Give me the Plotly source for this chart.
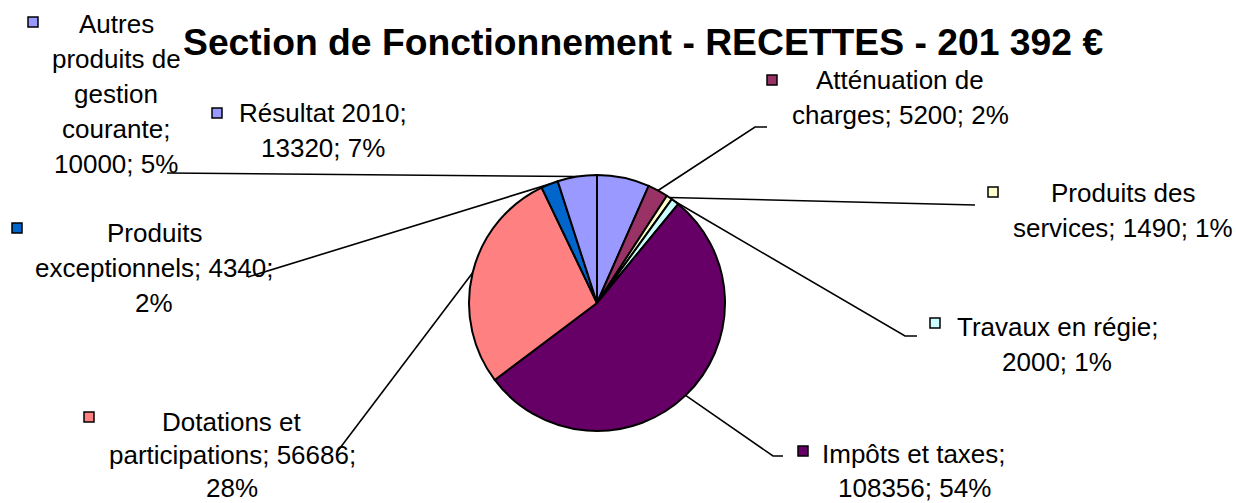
import math
import plotly.graph_objects as go

# ---------------- data ----------------
labels = ["Résultat 2010", "Atténuation de charges", "Produits des services",
          "Travaux en régie", "Impôts et taxes", "Dotations et participations",
          "Produits exceptionnels", "Autres produits de gestion courante"]
values = [13320, 5200, 1490, 2000, 108356, 56686, 4340, 10000]
pct_text = ["7%", "2%", "1%", "1%", "54%", "28%", "2%", "5%"]
colors = ["#9999FF", "#993366", "#FFFFCC", "#CCFFFF", "#660066",
          "#FF8080", "#0066CC", "#9999FF"]
title_text = "Section de Fonctionnement - RECETTES - 201 392 €"

# label text, wrapped as in the original
label_lines = [
    ["Résultat 2010;", "13320; 7%"],
    ["Atténuation de", "charges; 5200; 2%"],
    ["Produits des", "services; 1490; 1%"],
    ["Travaux en régie;", "2000; 1%"],
    ["Impôts et taxes;", "108356; 54%"],
    ["Dotations et", "participations; 56686;", "28%"],
    ["Produits", "exceptionnels; 4340;", "2%"],
    ["Autres", "produits de", "gestion", "courante;", "10000; 5%"],
]

# ---------------- layout (pixels) ----------------
W, H = 1236, 503
CX, CY, R = 597, 303, 128
label_x = [323, 900, 1123, 1057, 914, 232, 154, 116]
label_y0 = [113, 80, 193, 327, 454, 422, 233, 24]
line_gap = [35, 35, 35, 35, 34, 33, 35, 35]
key_pos = [(217, 113), (772, 80), (993, 192), (935, 323), (803, 451),
           (89, 417), (17, 228), (33, 22)]
leader_out = [None, [(767, 127), (755, 127)], [(975, 205)],
              [(917, 336), (905, 336)], [(783, 456), (773, 456)],
              [(337, 452)], [(248, 277)], [(167, 173)]]

FONT = "Liberation Sans, Arial, sans-serif"

fig = go.Figure()

fig.add_trace(go.Pie(
    labels=labels, values=values, sort=False, direction="clockwise", rotation=0,
    marker=dict(colors=colors, line=dict(color="black", width=2)),
    textinfo="none", hoverinfo="label+value+percent", showlegend=False,
    domain=dict(x=[(CX - R) / W, (CX + R) / W],
                y=[(H - CY - R) / H, (H - CY + R) / H]),
))

# leader lines: from the label to the middle of the slice edge
total = sum(values)
cum = 0
for i, v in enumerate(values):
    mid = (cum + v / 2) / total
    cum += v
    if leader_out[i] is None:
        continue
    ang = 2 * math.pi * mid
    px = CX + R * math.sin(ang)
    py = CY - R * math.cos(ang)
    pts = leader_out[i] + [(px, py)]
    fig.add_trace(go.Scatter(
        x=[p[0] for p in pts], y=[p[1] for p in pts], mode="lines",
        line=dict(color="black", width=1.6), hoverinfo="skip", showlegend=False,
    ))

# legend keys
fig.add_trace(go.Scatter(
    x=[k[0] for k in key_pos], y=[k[1] for k in key_pos], mode="markers",
    marker=dict(symbol="square", size=10, color=colors,
                line=dict(color="black", width=1.5)),
    text=labels, hoverinfo="text", showlegend=False,
))

annotations = []
for i, lines in enumerate(label_lines):
    for j, ln in enumerate(lines):
        annotations.append(dict(
            x=label_x[i], y=label_y0[i] + j * line_gap[i], xref="x", yref="y",
            text=ln, showarrow=False, xanchor="center", yanchor="middle",
            font=dict(family=FONT, size=26, color="black"),
        ))

annotations.append(dict(
    x=643, y=42, xref="x", yref="y", text="<b>" + title_text + "</b>",
    showarrow=False, xanchor="center", yanchor="middle",
    font=dict(family=FONT, size=37.3, color="black"),
))

fig.update_layout(
    width=W, height=H, margin=dict(l=0, r=0, t=0, b=0),
    paper_bgcolor="white", plot_bgcolor="white",
    xaxis=dict(range=[0, W], visible=False, fixedrange=True, domain=[0, 1]),
    yaxis=dict(range=[H, 0], visible=False, fixedrange=True, domain=[0, 1]),
    annotations=annotations,
)

fig.write_html("out.html", config={"displayModeBar": False})

# remove the default page margin so the figure fills the window exactly
with open("out.html", encoding="utf-8") as f:
    html = f.read()
html = html.replace("<body>", '<body style="margin:0;overflow:hidden">', 1)
with open("out.html", "w", encoding="utf-8") as f:
    f.write(html)
